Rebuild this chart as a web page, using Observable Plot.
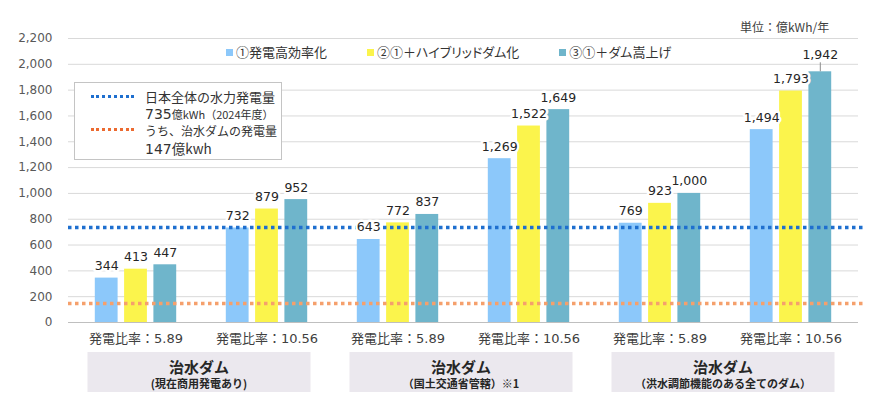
<!DOCTYPE html>
<html>
<head>
<meta charset="utf-8">
<script src="https://cdn.jsdelivr.net/npm/d3@7"></script>
<script src="https://cdn.jsdelivr.net/npm/@observablehq/plot@0.6"></script>
<style>
  body { margin: 0; background: #fff; }
  #wrap { position: relative; width: 876px; height: 414px; overflow: hidden;
          font-family: "Noto Sans CJK JP", sans-serif; color: #404040; }
  #wrap svg { position: absolute; left: 0; top: 0; }
  .unit { position: absolute; left: 740px; top: 17px; font-size: 12px; line-height: 20px; color: #404040; white-space: nowrap; }
  .legend { position: absolute; left: 226px; top: 42px; display: flex; gap: 40px; font-size: 13px;
            line-height: 20px; color: #333; white-space: nowrap; font-feature-settings: "palt"; }
  .legend .item { display: flex; align-items: center; }
  .legend .sw { width: 7px; height: 7px; margin-right: 3px; display: inline-block; }
  .keybox { position: absolute; left: 74px; top: 82px; width: 206px; height: 76px; background: #fff;
            border: 1px solid #c4c4c4; color: #333; }
  .keybox .row { position: absolute; left: 70px; white-space: nowrap; line-height: 18px; }
  .keybox .dots { position: absolute; left: 16px; width: 43px; height: 0; border-top: 3.5px dotted; }
  .big { font-family: "DejaVu Sans", "Noto Sans CJK JP", sans-serif; font-size: 14px; }
</style>
</head>
<body>
<div id="wrap"></div>
<script>
// 年間発電量（億kWh/年）: 治水ダムの区分 × 発電比率 × 対策ケース
const damGroups = ["治水ダム", "治水ダム", "治水ダム"];
const damNotes = ["(現在商用発電あり)", "（国土交通省管轄）※1", "（洪水調節機能のある全てのダム）"];
const categoryKeys = ["A-5.89", "A-10.56", "B-5.89", "B-10.56", "C-5.89", "C-10.56"];
const ratioLabels = ["発電比率：5.89", "発電比率：10.56", "発電比率：5.89", "発電比率：10.56", "発電比率：5.89", "発電比率：10.56"];

const seriesNames = ["①発電高効率化", "②①＋ハイブリッドダム化", "③①＋ダム嵩上げ"];
const efficiency = [344, 732, 643, 1269, 769, 1494];
const hybrid     = [413, 879, 772, 1522, 923, 1793];
const raised     = [447, 952, 837, 1649, 1000, 1942];

// 参考線: 日本全体の水力発電量 / うち治水ダムの発電量
const totalHydro = 735;
const floodDamHydro = 147;

const yTicks = [0, 200, 400, 600, 800, 1000, 1200, 1400, 1600, 1800, 2000, 2200];
const unitLabel = "単位：億kWh/年";

const seriesColors = ["#8cc8fa", "#fbf44c", "#6fb5cb"];
const blueLine = "#1e6fcf", orangeLine = "#f5a06c", orangeKey = "#ec6a30";

const seriesValues = [efficiency, hybrid, raised];
const rows = categoryKeys.flatMap((key, i) =>
  seriesNames.map((s, j) => ({ key, series: s, j, value: seriesValues[j][i] })));
const maxValue = d3.max(rows, d => d.value);

const W = 876, H = 414;
const barStep = 29.3;           // spacing of the three bars inside one group
const offsets = [-barStep, 0, barStep];
const fmt = d3.format(",");
const numFont = '"DejaVu Sans", "Noto Sans CJK JP", sans-serif';

const barMarks = seriesNames.map((s, j) =>
  Plot.barY(rows.filter(d => d.j === j), {
    x: "key", y: "value", fill: seriesColors[j], dx: offsets[j], insetLeft: 3.1, insetRight: 3.1
  }));

// 値ラベル（最大値は引き出し線つきで少し上に置く）
const labelMarks = seriesNames.map((s, j) =>
  Plot.text(rows.filter(d => d.j === j && d.value !== maxValue), {
    x: "key", y: "value", text: d => fmt(d.value), dx: offsets[j], dy: -8,
    lineAnchor: "bottom", fontFamily: numFont, fontSize: 12.5, fill: "#262626",
    stroke: "white", strokeWidth: 5
  }));

const topRows = rows.filter(d => d.value === maxValue);
const topMarks = topRows.length ? [
  Plot.ruleX(topRows, { x: "key", y1: "value", y2: "value", dx: offsets[topRows[0].j],
                        insetTop: -9, stroke: "#8c8c8c", strokeWidth: 1 }),
  Plot.text(topRows, { x: "key", y: "value", text: d => fmt(d.value), dx: offsets[topRows[0].j],
                       dy: -13, lineAnchor: "bottom", fontFamily: numFont, fontSize: 12.5,
                       fill: "#262626", stroke: "white", strokeWidth: 5 })
] : [];

const chart = Plot.plot({
  width: W, height: H,
  marginTop: 38, marginBottom: 92, marginLeft: 68, marginRight: 18,
  style: { fontFamily: '"Noto Sans CJK JP", sans-serif', background: "transparent", overflow: "visible" },
  x: { type: "band", domain: categoryKeys, paddingInner: 0.778, paddingOuter: 0.389, label: null },
  y: { domain: [0, 2200], label: null },
  marks: [
    Plot.gridY(yTicks, { stroke: "#d9d9d9", strokeOpacity: 1 }),
    Plot.axisY(yTicks, { tickSize: 0, tickPadding: 16, tickFormat: fmt, fontSize: 12,
                         fontFamily: numFont, fill: "#595959", label: null }),
    Plot.axisX({ tickSize: 0, tickPadding: 11, fontSize: 13, fontFamily: numFont, fill: "#404040",
                 tickFormat: d => ratioLabels[categoryKeys.indexOf(d)], label: null }),
    ...barMarks,
    Plot.ruleY([0], { stroke: "#bfbfbf" }),
    Plot.ruleY([totalHydro], { stroke: blueLine, strokeWidth: 3.5, strokeDasharray: "3.5,3.5", insetRight: -8 }),
    Plot.ruleY([floodDamHydro], { stroke: orangeLine, strokeWidth: 3.5, strokeDasharray: "3.5,3.5", insetRight: -8 }),
    ...labelMarks,
    ...topMarks
  ]
});

const wrap = document.getElementById("wrap");
wrap.appendChild(chart);

// 区分ラベルのボックス（発電比率 2 本ずつを囲む）
const svg = d3.select(chart);
const xs = chart.scale("x");
const ys = chart.scale("y");
const half = xs.bandwidth / 2;
const y0 = ys.apply(0);
damGroups.forEach((name, i) => {
  const c1 = xs.apply(categoryKeys[2 * i]) + half;
  const c2 = xs.apply(categoryKeys[2 * i + 1]) + half;
  const g = svg.append("g");
  g.append("rect").attr("x", c1 - 48).attr("width", c2 - c1 + 92)
    .attr("y", y0 + 30).attr("height", 40).attr("fill", "#ebe8ee");
  g.append("text").attr("x", (c1 + c2) / 2 - 2).attr("y", y0 + 44).attr("text-anchor", "middle")
    .attr("dominant-baseline", "central").attr("font-size", 15).attr("font-weight", "bold")
    .attr("fill", "#262626").text(name);
  g.append("text").attr("x", (c1 + c2) / 2 - 2).attr("y", y0 + 61).attr("text-anchor", "middle")
    .attr("dominant-baseline", "central").attr("font-size", 11).attr("font-weight", "bold")
    .attr("fill", "#262626").text(damNotes[i]);
});

// 単位
const unit = document.createElement("div");
unit.className = "unit";
unit.textContent = unitLabel;
wrap.appendChild(unit);

// 系列の凡例
const legend = document.createElement("div");
legend.className = "legend";
seriesNames.forEach((s, j) => {
  const item = document.createElement("span");
  item.className = "item";
  item.innerHTML = `<span class="sw" style="background:${seriesColors[j]}"></span>${s}`;
  legend.appendChild(item);
});
wrap.appendChild(legend);

// 参考線の凡例
const key = document.createElement("div");
key.className = "keybox";
key.innerHTML = `
  <span class="dots" style="top:12px;border-color:${blueLine}"></span>
  <div class="row" style="top:5px;font-size:13px">日本全体の水力発電量</div>
  <div class="row" style="top:22px;font-size:11px"><span class="big">${totalHydro}</span>億kWh（2024年度）</div>
  <span class="dots" style="top:45px;border-color:${orangeKey}"></span>
  <div class="row" style="top:39px;font-size:12px">うち、治水ダムの発電量</div>
  <div class="row" style="top:56px;font-size:13.5px"><span class="big">${floodDamHydro}</span>億kwh</div>`;
wrap.appendChild(key);
</script>
</body>
</html>
